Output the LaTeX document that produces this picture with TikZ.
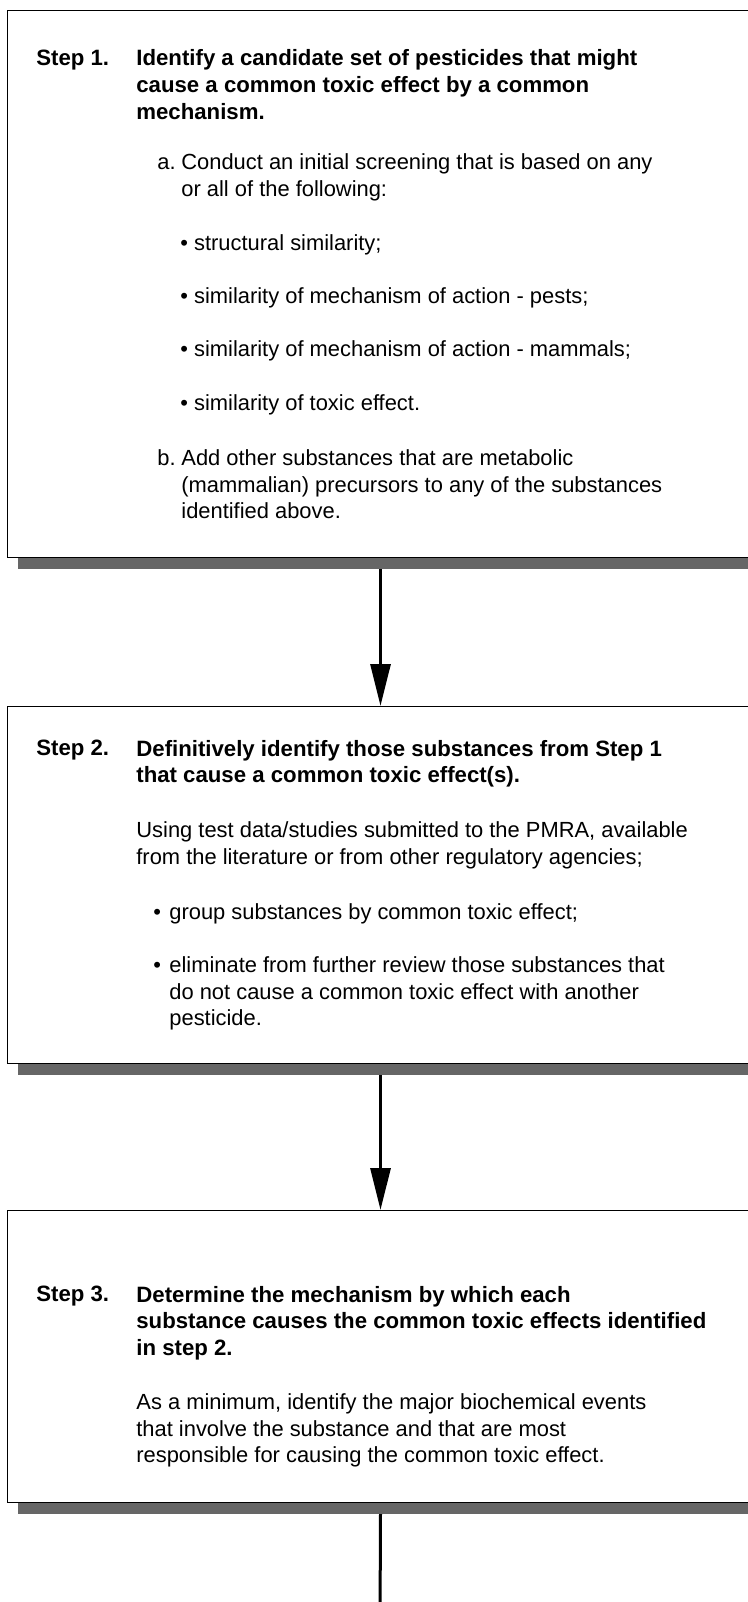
\documentclass[tikz,border=0pt]{standalone}
\usepackage{fontspec}
\setmainfont{Liberation Sans}
\usetikzlibrary{arrows.meta,positioning,shadows}
\definecolor{shadowgray}{HTML}{666666}
\tikzset{>={Triangle[width=10pt,length=21pt]},
  step box/.style={rectangle,draw=black,line width=0.5pt,fill=white,anchor=north west,minimum width=373pt,inner sep=0pt,drop shadow={shadow xshift=5pt,shadow yshift=-5.5pt,fill=shadowgray,opacity=1}},
  step text/.style={anchor=north west,inner sep=0pt,align=left,font=\fontsize{10.95pt}{13.3pt}\selectfont},
  step head/.style={step text,font=\fontsize{11.1pt}{13.3pt}\selectfont\bfseries},
  step label/.style={step text,anchor=base west},
  flow/.style={->,line width=1.5pt}}

\begin{document}
\begin{tikzpicture}[x=0.5pt,y=-0.5pt]
    \useasboundingbox (0,0) rectangle (748,1602);

    % the three boxes
    \node[step box, minimum height=273.5pt] (box1) at (7,10) {};
    \node[step box, minimum height=178.5pt] (box2) at (7,706) {};
    \node[step box, minimum height=146pt] (box3) at (7,1210) {};

    % step 1
    \node[step label, font=\fontsize{11.1pt}{13.3pt}\selectfont\bfseries] (s1lbl) at (36,65) {Step 1.};
    \node[step head] (s1head) at (136,49.5) {Identify a candidate set of pesticides that might\\cause a common toxic effect by a common\\mechanism.};
    \node[step label] (s1alab) at (157,169) {a.};
    \node[step text] (s1a) at (181,153.5) {Conduct an initial screening that is based on any\\or all of the following:};
    \node[step text] (s1b1) at (180,234.5) {\textbullet\ structural similarity;};
    \node[step text] (s1b2) at (180,287.5) {\textbullet\ similarity of mechanism of action - pests;};
    \node[step text] (s1b3) at (180,340.5) {\textbullet\ similarity of mechanism of action - mammals;};
    \node[step text] (s1b4) at (180,394.5) {\textbullet\ similarity of toxic effect.};
    \node[step label] (s1blab) at (157,465) {b.};
    \node[step text] (s1b) at (181,449.5) {Add other substances that are metabolic\\(mammalian) precursors to any of the substances\\identified above.};

    % step 2
    \node[step label, font=\fontsize{11.1pt}{13.3pt}\selectfont\bfseries] (s2lbl) at (36,755) {Step 2.};
    \node[step head] (s2head) at (136,739.5) {Definitively identify those substances from Step 1\\that cause a common toxic effect(s).};
    \node[step text] (s2using) at (136,821.5) {Using test data/studies submitted to the PMRA, available\\from the literature or from other regulatory agencies;};
    \node[step label] (s2dot1) at (153,919) {\textbullet};
    \node[step text] (s2group) at (169,903.5) {group substances by common toxic effect;};
    \node[step label] (s2dot2) at (153,972) {\textbullet};
    \node[step text] (s2elim) at (169,956.5) {eliminate from further review those substances that\\do not cause a common toxic effect with another\\pesticide.};

    % step 3
    \node[step label, font=\fontsize{11.1pt}{13.3pt}\selectfont\bfseries] (s3lbl) at (36,1301) {Step 3.};
    \node[step head] (s3head) at (136,1285.5) {Determine the mechanism by which each\\substance causes the common toxic effects identified\\in step 2.};
    \node[step text] (s3min) at (136,1393.5) {As a minimum, identify the major biochemical events\\that involve the substance and that are most\\responsible for causing the common toxic effect.};

    % connectors
    \coordinate (tail) at (380,1625);
    \draw[flow] ([yshift=-5.5pt]box1.south) -- (box2.north);
    \draw[flow] ([yshift=-5.5pt]box2.south) -- (box3.north);
    \draw[line width=1.5pt] ([yshift=-5.5pt]box3.south) -- (tail);
\end{tikzpicture}
\end{document}
